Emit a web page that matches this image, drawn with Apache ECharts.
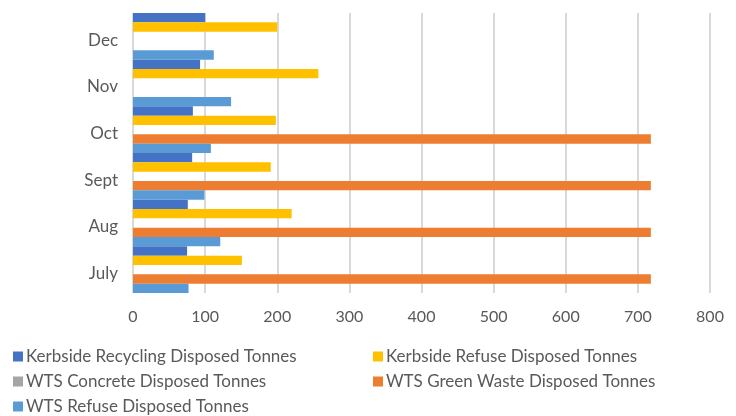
<!DOCTYPE html>
<html>
<head>
<meta charset="utf-8">
<script src="https://cdn.jsdelivr.net/npm/echarts@6/dist/echarts.min.js"></script>
<style>
  html, body { margin: 0; padding: 0; background: #fff; }
  #chart { width: 736px; height: 416px; }
</style>
</head>
<body>
<div id="chart"></div>
<script>
// months, bottom to top
const months = ['July', 'Aug', 'Sept', 'Oct', 'Nov', 'Dec'];
const xTicks = [0, 100, 200, 300, 400, 500, 600, 700, 800];

const seriesNames = [
  'Kerbside Recycling Disposed Tonnes',
  'Kerbside Refuse Disposed Tonnes',
  'WTS Concrete Disposed Tonnes',
  'WTS Green Waste Disposed Tonnes',
  'WTS Refuse Disposed Tonnes'
];
const kerbsideRecycling = [75, 76, 82, 83, 93, 100];
const kerbsideRefuse = [151, 220, 191, 198, 257, 200];
const wtsConcrete = [0, 0, 0, 0, 0, 0];
const wtsGreenWaste = [718, 718, 718, 718, 0, 0];
const wtsRefuse = [77, 121, 99, 108, 136, 112];

const colors = ['#4472C4', '#FFC000', '#A5A5A5', '#ED7D31', '#5B9BD5'];
const values = [kerbsideRecycling, kerbsideRefuse, wtsConcrete, wtsGreenWaste, wtsRefuse];

const fontFamily = 'Lato';
const textColor = '#595959';

// legend laid out like the excel one: two columns, three rows
const legendSpots = [
  { left: 8, top: 343 },
  { left: 368, top: 343 },
  { left: 8, top: 368 },
  { left: 368, top: 368 },
  { left: 8, top: 393 }
];

const chart = echarts.init(document.getElementById('chart'));
chart.setOption({
  animation: false,
  color: colors,
  grid: { left: 133, right: 26, top: 13, bottom: 123, containLabel: false },
  legend: seriesNames.map((name, i) => ({
    data: [name],
    left: legendSpots[i].left,
    top: legendSpots[i].top,
    itemWidth: 10,
    itemHeight: 10,
    itemGap: 0,
    icon: 'rect',
    textStyle: { fontFamily, fontSize: 17, color: textColor, padding: [0, 0, 0, -2] }
  })),
  xAxis: {
    type: 'value',
    min: xTicks[0],
    max: xTicks[xTicks.length - 1],
    interval: 100,
    axisLine: { show: false },
    axisTick: { show: false },
    splitLine: { lineStyle: { color: '#D9D9D9', width: 2 } },
    axisLabel: { fontFamily, fontSize: 16, color: textColor, margin: 16 }
  },
  yAxis: {
    type: 'category',
    data: months,
    axisLine: { show: false },
    axisTick: { show: false },
    axisLabel: {
      fontFamily, fontSize: 17, color: textColor, margin: 15,
      formatter: '{m|{value}}',
      rich: { m: { fontFamily, fontSize: 17, color: textColor, padding: [8, 0, 0, 0] } }
    }
  },
  series: seriesNames.map((name, i) => ({
    name,
    type: 'bar',
    data: values[i],
    barGap: '0%',
    barCategoryGap: '0%',
    itemStyle: { color: colors[i] }
  }))
});
</script>
</body>
</html>
